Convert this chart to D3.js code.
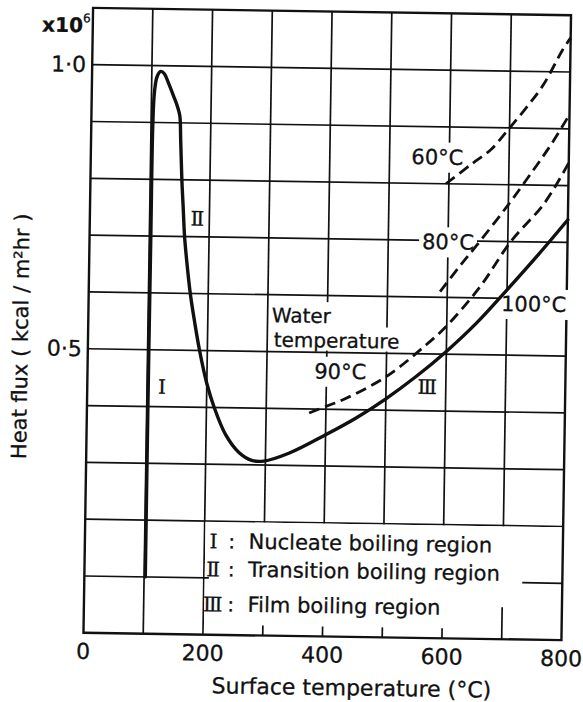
<!DOCTYPE html>
<html>
<head>
<meta charset="utf-8">
<script src="https://cdn.jsdelivr.net/npm/d3@7"></script>
<style>
  html, body { margin: 0; padding: 0; background: #fff; }
  svg { display: block; }
  text { font-family: "DejaVu Sans", sans-serif; fill: #111; stroke: #111; stroke-width: 0.3px; }
</style>
</head>
<body>
<svg id="chart" width="583" height="702"></svg>
<script>
// Boiling curve of a hot surface quenched in water:
// surface temperature (°C) against heat flux (×10^6 kcal/m²hr).

const xTicks = [0, 200, 400, 600, 800];
const xTickLabels = ["0", "200", "400", "600", "800"];
const yTicks = [0.5, 1.0];
const yTickLabels = ["0·5", "1·0"];
const xGridValues = [100, 200, 300, 400, 500, 600, 700];
const yGridValues = [0.1, 0.2, 0.3, 0.4, 0.5, 0.6, 0.7, 0.8, 0.9, 1.0];

// Water temperature 100 °C: nucleate, transition and film boiling branches
const water100 = [
  [102, 0.10], [102, 0.40], [102.5, 0.70], [103, 0.90], [105, 0.955], [109, 0.981],
  [115, 0.99], [121, 0.986], [128, 0.97], [137, 0.947], [144, 0.928], [148, 0.912],
  [150, 0.87], [153, 0.80], [156, 0.75], [159, 0.70], [164, 0.65], [170, 0.60],
  [178, 0.55], [187, 0.50], [200, 0.442], [213, 0.40], [233, 0.352], [255, 0.322],
  [277, 0.308], [297, 0.307], [340, 0.322], [400, 0.355], [450, 0.385], [500, 0.42],
  [550, 0.46], [600, 0.505], [650, 0.556], [700, 0.615], [750, 0.676], [800, 0.74]
];
// Film boiling at lower water temperatures
const water90 = [
  [372, 0.393], [400, 0.405], [430, 0.418], [500, 0.459], [566, 0.516], [600, 0.55],
  [655, 0.62], [705, 0.70], [760, 0.768], [800, 0.84]
];
const water80 = [
  [588, 0.61], [620, 0.655], [650, 0.695], [700, 0.765], [740, 0.825], [770, 0.872], [800, 0.925]
];
const water60 = [
  [595, 0.80], [637, 0.835], [670, 0.862], [697, 0.896], [726, 0.934], [755, 0.976],
  [787, 1.039], [800, 1.06]
];

const regionNumerals = ["Ⅰ", "Ⅱ", "Ⅲ"];
const regionNames = ["Nucleate boiling region", "Transition boiling region", "Film boiling region"];

// ---- layout ----
const plot = { left: 88.25, right: 566.25, top: 11.5, bottom: 636.5 };
const x = d3.scaleLinear().domain([0, 800]).range([plot.left, plot.right]);
const y = d3.scaleLinear().domain([0, 1.1]).range([plot.bottom, plot.top]);

const svg = d3.select("#chart");
svg.append("rect").attr("width", 583).attr("height", 702).attr("fill", "#fff");

// whole sheet sits slightly turned
const g = svg.append("g").attr("transform", "rotate(0.88 327 324)");

const gridLayer = g.append("g");
const bgLayer = g.append("g");
const curveLayer = g.append("g");
const textLayer = g.append("g");

const ink = "#111";
const gridW = 1.7;

// grid
gridLayer.selectAll("line.v").data(xGridValues).join("line")
  .attr("x1", d => x(d)).attr("x2", d => x(d))
  .attr("y1", y(1.1)).attr("y2", y(0))
  .attr("stroke", ink).attr("stroke-width", gridW);
gridLayer.selectAll("line.h").data(yGridValues).join("line")
  .attr("x1", x(0)).attr("x2", x(800))
  .attr("y1", d => y(d)).attr("y2", d => y(d))
  .attr("stroke", ink).attr("stroke-width", gridW);

// legend panel clears the lower-right cells
gridLayer.append("rect")
  .attr("x", x(200) + gridW / 2).attr("y", y(0.2) + gridW / 2)
  .attr("width", x(800) - x(200) - gridW)
  .attr("height", y(0) - y(0.2) - gridW)
  .attr("fill", "#fff");

// short remnants of the grid inside the panel
[300, 400, 500, 600].forEach(v => {
  gridLayer.append("line")
    .attr("x1", x(v)).attr("x2", x(v)).attr("y1", y(0)).attr("y2", y(0) - 10)
    .attr("stroke", ink).attr("stroke-width", gridW);
});
gridLayer.append("line")
  .attr("x1", x(700)).attr("x2", x(700)).attr("y1", y(0)).attr("y2", y(0) - 32)
  .attr("stroke", ink).attr("stroke-width", gridW);
gridLayer.append("line")
  .attr("x1", x(733)).attr("x2", x(800)).attr("y1", y(0.1)).attr("y2", y(0.1))
  .attr("stroke", ink).attr("stroke-width", gridW);
gridLayer.append("line")
  .attr("x1", x(200)).attr("x2", x(200) + 5).attr("y1", y(0.1)).attr("y2", y(0.1))
  .attr("stroke", ink).attr("stroke-width", gridW);

// frame
gridLayer.append("rect")
  .attr("x", plot.left).attr("y", plot.top)
  .attr("width", plot.right - plot.left).attr("height", plot.bottom - plot.top)
  .attr("fill", "none").attr("stroke", ink).attr("stroke-width", 2.4);

// curves
const line = d3.line().x(d => x(d[0])).y(d => y(d[1])).curve(d3.curveCatmullRom.alpha(0.5));
curveLayer.append("path").attr("d", line(water100))
  .attr("fill", "none").attr("stroke", ink).attr("stroke-width", 3.4)
  .attr("stroke-linejoin", "round").attr("stroke-linecap", "round");
[water90, water80, water60].forEach(s => {
  curveLayer.append("path").attr("d", line(s))
    .attr("fill", "none").attr("stroke", ink).attr("stroke-width", 2.8)
    .attr("stroke-dasharray", "11 6");
});

// labels on the chart, each on a white patch that interrupts the grid
function label(txt, t, q, opts = {}) {
  const el = textLayer.append("text")
    .attr("x", x(t)).attr("y", y(q))
    .attr("text-anchor", opts.anchor || "middle")
    .attr("dominant-baseline", "central")
    .attr("font-size", opts.size || 21)
    .text(txt);
  if (opts.font) el.style("font-family", opts.font);
  return el;
}
function patch(el, pad = 2, clipBottom = null) {
  const b = el.node().getBBox();
  let y0 = b.y - pad, y1 = b.y + b.height + pad;
  if (clipBottom !== null) y1 = Math.min(y1, clipBottom);
  bgLayer.append("rect")
    .attr("x", b.x - pad).attr("y", y0)
    .attr("width", b.width + 2 * pad).attr("height", y1 - y0)
    .attr("fill", "#fff");
}

patch(label("60°C", 580, 0.846), 3);
patch(label("80°C", 600, 0.697), 3);
patch(label("100°C", 745, 0.59), 3);
patch(label("90°C", 423, 0.466), 3);
const w1 = label("Water", 307, 0.564, { anchor: "start", size: 20 });
const w2 = label("temperature", 311, 0.521, { anchor: "start", size: 20 });
patch(w1, 2);
patch(w2, 2, y(0.5) - gridW);

const numeralFont = '"DejaVu Serif", "Liberation Serif", serif';
label(regionNumerals[0], 125, 0.435, { font: numeralFont, size: 20 });
label(regionNumerals[1], 180, 0.732, { font: numeralFont, size: 20 });
label(regionNumerals[2], 569, 0.442, { font: numeralFont, size: 20 });

// legend
const legendBaselines = [550, 578, 613];
regionNames.forEach((name, i) => {
  textLayer.append("text")
    .attr("x", 217).attr("y", legendBaselines[i])
    .attr("text-anchor", "middle").attr("font-size", 20)
    .style("font-family", numeralFont)
    .text(regionNumerals[i]);
  textLayer.append("text")
    .attr("x", 235).attr("y", legendBaselines[i])
    .attr("text-anchor", "middle").attr("font-size", 20)
    .text(":");
  textLayer.append("text")
    .attr("x", 252).attr("y", legendBaselines[i])
    .attr("font-size", 21)
    .text(name);
});

// axes
textLayer.selectAll("text.xt").data(xTicks).join("text")
  .attr("x", d => x(d)).attr("y", plot.bottom + 26)
  .attr("text-anchor", "middle").attr("font-size", 22)
  .text((d, i) => xTickLabels[i]);
textLayer.selectAll("text.yt").data(yTicks).join("text")
  .attr("x", plot.left - 6).attr("y", d => y(d))
  .attr("text-anchor", "end").attr("dominant-baseline", "central")
  .attr("font-size", 22)
  .text((d, i) => yTickLabels[i]);

const mult = textLayer.append("text")
  .attr("x", 86).attr("y", 36).attr("text-anchor", "end")
  .attr("font-size", 20).attr("font-weight", "bold");
mult.append("tspan").text("x10");
mult.append("tspan").attr("font-size", 12).attr("font-weight", "normal")
  .attr("dy", -10).text("6");

textLayer.append("text")
  .attr("x", 357).attr("y", 695)
  .attr("text-anchor", "middle").attr("font-size", 22)
  .text("Surface temperature (°C)");

textLayer.append("text")
  .attr("transform", "translate(21,341) rotate(-90)")
  .attr("text-anchor", "middle").attr("dominant-baseline", "central")
  .attr("font-size", 21)
  .text("Heat flux ( kcal / m²hr )");
</script>
</body>
</html>
